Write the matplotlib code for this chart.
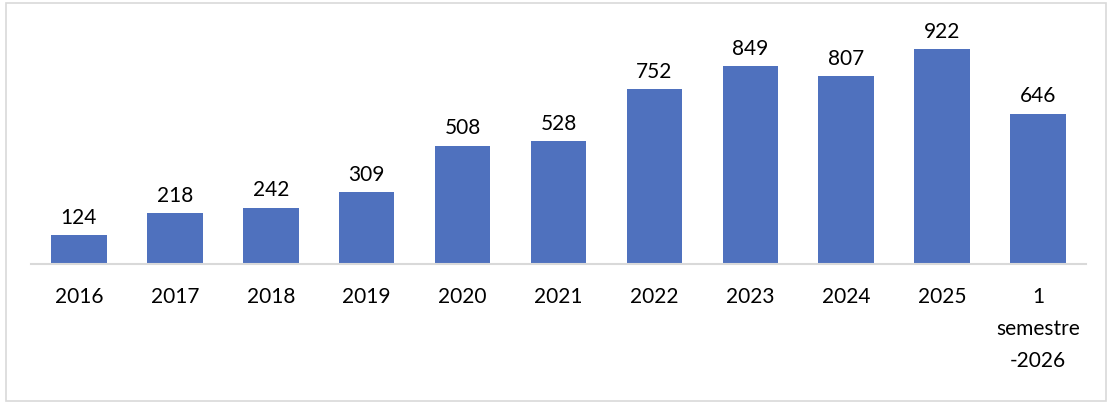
import matplotlib.pyplot as plt
from matplotlib.patches import Rectangle

plt.rcParams['font.family'] = ['Lato', 'DejaVu Sans']

categories = ['2016', '2017', '2018', '2019', '2020', '2021', '2022', '2023',
              '2024', '2025', '1\nsemestre\n-2026']
values = [124, 218, 242, 309, 508, 528, 752, 849, 807, 922, 646]

bar_color = '#4F71BE'

fig = plt.figure(figsize=(11.18, 4.06), dpi=100)
ax = fig.add_axes([0.0277, 0.347, 0.9437, 0.574])

x = range(len(categories))
bars = ax.bar(x, values, width=0.58, color=bar_color)

for xi, v in zip(x, values):
    ax.annotate(str(v), (xi, v), xytext=(0, 6), textcoords='offset points',
                ha='center', va='bottom', fontsize=15, color='black')

ax.set_xlim(-0.5, len(categories) - 0.5)
ax.set_ylim(0, 1000)
ax.set_xticks(list(x))
ax.set_xticklabels(categories, fontsize=15, linespacing=1.75)
ax.tick_params(axis='x', length=0, pad=16)
ax.set_yticks([])
for s in ['top', 'right', 'left']:
    ax.spines[s].set_visible(False)
ax.spines['bottom'].set_color('#D9D9D9')
ax.spines['bottom'].set_linewidth(1.5)

# chart border
fig.patches.append(Rectangle((0.005, 0.01), 0.984, 0.98, transform=fig.transFigure,
                             fill=False, edgecolor='#D9D9D9', linewidth=1.2))

fig.savefig('out.png', dpi=100)
